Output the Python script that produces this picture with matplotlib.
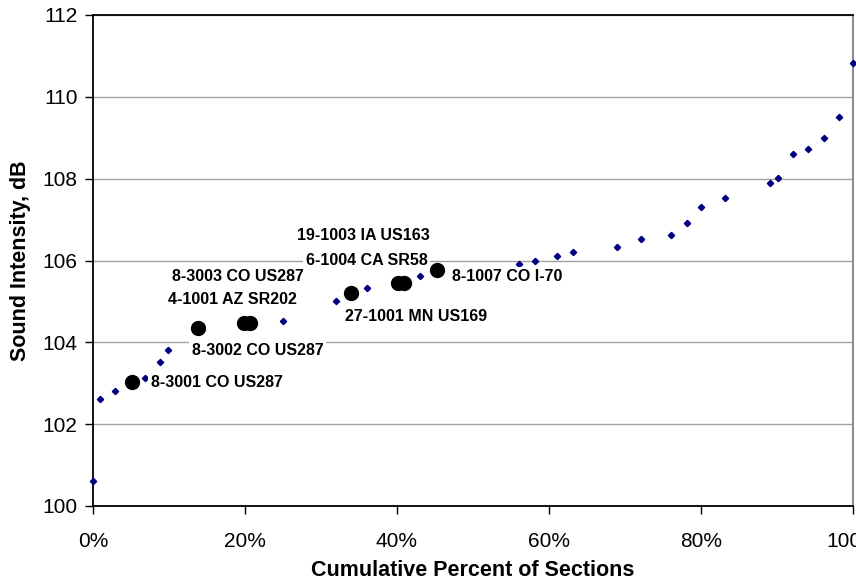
import matplotlib.pyplot as plt
from matplotlib.ticker import FuncFormatter, MultipleLocator

# all sections, cumulative percent vs sound intensity
pct_all = [0.0, 0.9, 2.9, 5.0, 6.9, 8.8, 9.9, 13.8, 19.9, 20.7, 25.0, 32.0,
           33.9, 36.0, 40.2, 41.0, 43.0, 45.2, 56.0, 58.1, 61.0, 63.1, 69.0,
           72.1, 76.0, 78.1, 80.0, 83.1, 89.1, 90.1, 92.1, 94.1, 96.2, 98.2,
           100.0]
db_all = [100.62, 102.62, 102.82, 103.05, 103.12, 103.52, 103.82, 104.35,
          104.47, 104.47, 104.52, 105.02, 105.2, 105.32, 105.45, 105.45,
          105.62, 105.77, 105.92, 106.0, 106.1, 106.2, 106.32, 106.52, 106.62,
          106.92, 107.3, 107.52, 107.9, 108.02, 108.6, 108.72, 109.0, 109.5,
          110.82]

# highlighted sections
pct_hl = [5.1, 13.8, 19.9, 20.7, 33.9, 40.1, 40.9, 45.2]
db_hl = [103.04, 104.35, 104.47, 104.47, 105.2, 105.45, 105.45, 105.77]

# label text, left x (%), centre y (dB)
labels = ["8-3001 CO US287", "8-3003 CO US287", "4-1001 AZ SR202",
          "8-3002 CO US287", "19-1003 IA US163", "6-1004 CA SR58",
          "8-1007 CO I-70", "27-1001 MN US169"]
label_x = [7.6, 10.4, 9.9, 13.0, 26.8, 28.0, 47.2, 33.2]
label_y = [103.02, 105.62, 105.04, 103.81, 106.6, 106.01, 105.6, 104.62]

plt.rcParams['font.family'] = ['Liberation Sans', 'DejaVu Sans']

fig = plt.figure(figsize=(8.56, 5.85), dpi=100)
ax = fig.add_axes([93 / 856, 1 - 506 / 585, 760 / 856, 491 / 585])

ax.plot(pct_all, db_all, linestyle='none', marker='D', markersize=3.2,
        color='#000080', zorder=3, clip_on=False)
ax.plot(pct_hl, db_hl, linestyle='none', marker='o', markersize=10,
        color='black', zorder=4)

for t, x, y in zip(labels, label_x, label_y):
    ax.text(x, y, t, fontsize=11.5, fontweight='bold', ha='left', va='center',
            zorder=5, bbox=dict(facecolor='white', edgecolor='none', pad=2))

ax.set_xlim(0, 100)
ax.set_ylim(100, 112)
ax.xaxis.set_major_locator(MultipleLocator(20))
ax.yaxis.set_major_locator(MultipleLocator(2))
ax.xaxis.set_major_formatter(FuncFormatter(lambda v, p: f"{v:.0f}%"))

ax.grid(axis='y', color='#a0a0a0', linewidth=1)
ax.set_axisbelow(True)
ax.tick_params(direction='out', length=6, width=1, labelsize=15, pad=5)
ax.tick_params(axis='x', pad=13)
for s in ax.spines.values():
    s.set_linewidth(1.3)
ax.spines['right'].set_color('#808080')

ax.set_xlabel("Cumulative Percent of Sections", fontsize=15.5,
              fontweight='bold', labelpad=6)
ax.set_ylabel("Sound Intensity, dB", fontsize=15.5, fontweight='bold',
              labelpad=8)

fig.savefig("out.png", dpi=100)
